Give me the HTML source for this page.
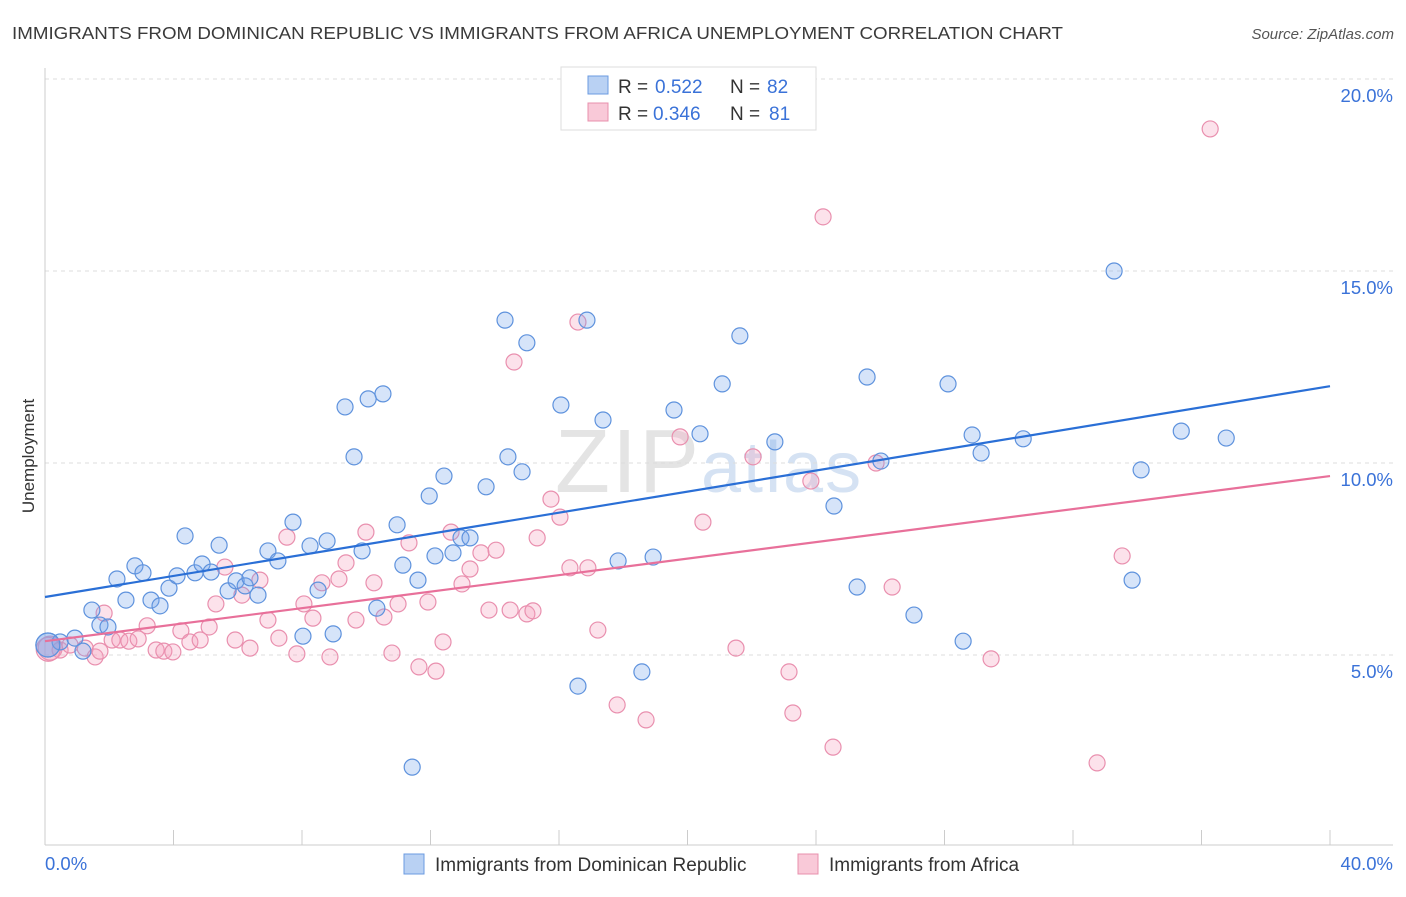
<!DOCTYPE html>
<html><head><meta charset="utf-8"><style>
body{margin:0;background:#fff;font-family:"Liberation Sans",sans-serif;}
svg text{font-family:"Liberation Sans",sans-serif;}
</style></head><body>
<svg id="chart" width="1406" height="892" xmlns="http://www.w3.org/2000/svg">
<text x="12" y="39" font-size="17.5" fill="#3a3a3a" textLength="1051" lengthAdjust="spacingAndGlyphs">IMMIGRANTS FROM DOMINICAN REPUBLIC VS IMMIGRANTS FROM AFRICA UNEMPLOYMENT CORRELATION CHART</text>
<text x="1394" y="39" font-size="15" fill="#555" font-style="italic" text-anchor="end">Source: ZipAtlas.com</text>
<text x="555" y="492" font-size="90" fill="#e4e4e4" font-family="Liberation Serif" letter-spacing="2">ZIP<tspan font-family="Liberation Sans" font-size="72" fill="#d5e2f3">atlas</tspan></text>
<g id="grid"></g>
<g id="axes"></g>
<g id="marks"></g>
<g id="lines"></g>
<text transform="translate(34,456) rotate(-90)" font-size="17" fill="#333" text-anchor="middle">Unemployment</text>
<g>
<rect x="561" y="67" width="255" height="63" fill="#fff" stroke="#ddd"/>
<rect x="588" y="76" width="20" height="18" fill="#b9d1f3" stroke="#6b9be0"/>
<text x="618" y="93" font-size="19" fill="#333">R =</text>
<text x="655" y="93" font-size="19" fill="#3a72d8">0.522</text>
<text x="730" y="93" font-size="19" fill="#333">N =</text>
<text x="767" y="93" font-size="19" fill="#3a72d8">82</text>
<rect x="588" y="103" width="20" height="18" fill="#f9c9d8" stroke="#e890ad"/>
<text x="618" y="120" font-size="19" fill="#333">R =</text>
<text x="653" y="120" font-size="19" fill="#3a72d8">0.346</text>
<text x="730" y="120" font-size="19" fill="#333">N =</text>
<text x="769" y="120" font-size="19" fill="#3a72d8">81</text>
</g>
<g>
<rect x="404" y="854" width="20" height="20" fill="#b9d1f3" stroke="#6b9be0"/>
<text x="435" y="871" font-size="19" fill="#333">Immigrants from Dominican Republic</text>
</g>
<g>
<rect x="798" y="854" width="20" height="20" fill="#f9c9d8" stroke="#e890ad"/>
<text x="829" y="871" font-size="19" fill="#333">Immigrants from Africa</text>
</g>
</svg>
<script>
const blueX=[0.09,0.47,0.93,1.18,1.46,1.71,1.96,2.24,2.52,2.80,3.05,3.30,3.58,3.86,4.11,4.36,4.67,4.89,5.17,5.42,5.70,5.95,6.23,6.38,6.63,6.94,7.25,7.72,8.03,8.25,8.50,8.78,8.97,9.34,9.62,9.87,10.06,10.33,10.52,10.96,11.14,11.43,11.61,11.96,12.14,12.42,12.70,12.95,13.23,13.73,14.32,14.41,14.85,15.00,16.06,16.59,16.87,17.37,17.84,18.58,18.93,19.58,20.39,21.08,21.63,22.72,24.56,25.28,25.59,26.02,27.05,28.11,28.58,28.86,29.14,30.45,33.28,33.84,34.12,35.37,36.77,0.09];
const blueY=[5.26,5.34,5.44,5.10,6.17,5.78,5.73,6.98,6.43,7.32,7.14,6.43,6.28,6.74,7.06,8.10,7.14,7.37,7.16,7.86,6.67,6.93,6.80,7.01,6.56,7.71,7.45,8.46,5.49,7.84,6.69,7.97,5.55,11.46,10.16,7.71,11.67,6.22,11.80,8.39,7.34,2.08,6.95,9.14,7.58,9.66,7.66,8.05,8.05,9.38,13.72,10.16,9.77,13.13,11.51,4.19,13.72,11.12,7.45,4.56,7.55,11.38,10.76,12.06,13.31,10.55,8.88,6.77,12.24,10.05,6.04,12.06,5.36,10.73,10.26,10.63,15.00,6.95,9.82,10.83,10.65,5.26];
const pinkX=[0.16,0.47,0.78,1.25,1.56,1.84,2.09,2.33,2.61,2.90,3.18,3.46,3.70,3.98,4.23,4.51,4.83,5.11,5.32,5.60,5.92,6.13,6.38,6.69,6.94,7.28,7.53,7.84,8.06,8.34,8.62,8.87,9.15,9.37,9.68,9.99,10.24,10.55,10.80,10.99,11.33,11.64,11.92,12.17,12.39,12.64,12.98,13.23,13.57,13.82,14.04,14.48,14.60,15.00,15.19,15.32,15.75,16.03,16.34,16.59,16.90,17.21,17.81,18.71,19.77,20.48,21.51,22.04,23.16,23.28,23.84,24.22,24.53,25.87,26.37,29.45,32.75,33.53,36.27,1.71,0.1];
const pinkY=[5.18,5.13,5.26,5.18,4.95,6.09,5.39,5.39,5.36,5.42,5.76,5.13,5.10,5.08,5.63,5.34,5.39,5.73,6.33,7.29,5.39,6.56,5.18,6.95,5.91,5.44,8.07,5.03,6.33,5.96,6.88,4.95,6.98,7.40,5.91,8.20,6.88,5.99,5.05,6.33,7.92,4.69,6.38,4.58,5.34,8.20,6.85,7.24,7.66,6.17,7.73,6.17,12.63,6.07,6.15,8.05,9.06,8.59,7.27,13.67,7.27,5.65,3.70,3.31,10.68,8.46,5.18,10.16,4.56,3.49,9.53,16.41,2.60,10.00,6.77,4.90,2.19,7.58,18.70,5.10,5.15];
const blueTrend=[6.51,12.0];
const pinkTrend=[5.36,9.66];
const yTicks=[5,10,15,20];
const yTickLabels=["5.0%","10.0%","15.0%","20.0%"];
const xTickLabels=["0.0%","40.0%"];
const NS="http://www.w3.org/2000/svg";
const X0=45,X1=1330,XMAX=40;
function xs(v){return X0+v/XMAX*(X1-X0);}
function ys(v){return 847-v*38.4;}
function mk(tag,attrs,parent){const e=document.createElementNS(NS,tag);for(const k in attrs)e.setAttribute(k,attrs[k]);document.getElementById(parent).appendChild(e);return e;}
yTicks.forEach((t,i)=>{
 const g=mk('line',{x1:45,x2:1393,y1:ys(t),y2:ys(t),stroke:'#ddd','stroke-dasharray':'4,4'},'grid');
 
 
 const l=mk('text',{x:1393,y:ys(t)+23,'font-size':18.5,fill:'#3a72d8','text-anchor':'end'},'grid');
 l.textContent=yTickLabels[i];
 
 
});
const ax=mk('line',{x1:45,x2:45,y1:68,y2:845,stroke:'#ccc'},'axes');


const bx=mk('line',{x1:45,x2:1393,y1:845,y2:845,stroke:'#ccc'},'axes');


for(let i=0;i<=10;i++){const t=mk('line',{x1:xs(i*4),x2:xs(i*4),y1:830,y2:845,stroke:'#ccc'},'axes');
 
 }
const xl0=mk('text',{x:45,y:870,'font-size':18.5,fill:'#3a72d8'},'axes');xl0.textContent=xTickLabels[0];


const xl1=mk('text',{x:1393,y:870,'font-size':18.5,fill:'#3a72d8','text-anchor':'end'},'axes');xl1.textContent=xTickLabels[1];


function pts(X,Y,fill,stroke,name){X.forEach((x,i)=>{const r=(x<0.3)?12:8;
 const c=mk('circle',{cx:xs(x),cy:ys(Y[i]),r:r,fill:fill,stroke:stroke,'stroke-width':1.2},'marks');
 
 });}
pts(pinkX,pinkY,'rgba(244,160,190,0.3)','#e98fae','point-africa');
pts(blueX,blueY,'rgba(120,165,235,0.3)','#5e92dd','point-dominican');
const bl=mk('line',{x1:xs(0),y1:ys(blueTrend[0]),x2:xs(40),y2:ys(blueTrend[1]),stroke:'#2a6fd6','stroke-width':2.2},'lines');


const pl=mk('line',{x1:xs(0),y1:ys(pinkTrend[0]),x2:xs(40),y2:ys(pinkTrend[1]),stroke:'#e8709a','stroke-width':2.2},'lines');


</script>
</body></html>
